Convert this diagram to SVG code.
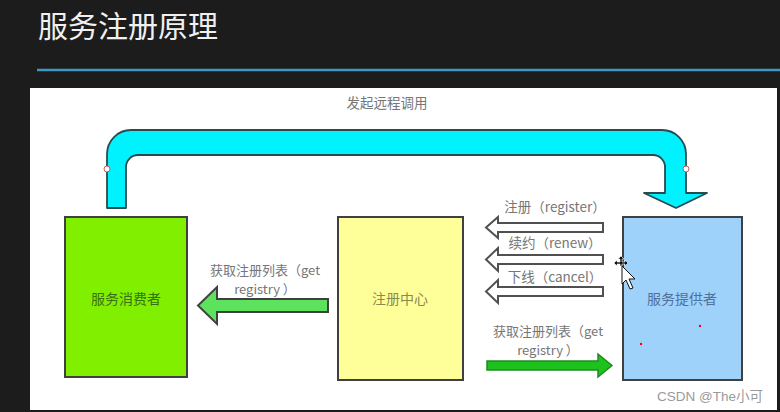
<svg xmlns="http://www.w3.org/2000/svg" width="780" height="412" viewBox="0 0 780 412">
<defs>
<style>
.cjk{font-family:"Noto Sans CJK SC","Liberation Sans",sans-serif;}
.lbl{font-family:"Noto Sans CJK SC","Liberation Sans",sans-serif;font-size:13.5px;fill:#767676;text-anchor:middle;}
.lbl2{font-size:13px;}
.box{stroke:#404040;stroke-width:2;}
.nt{font-family:"Noto Sans CJK SC","Liberation Sans",sans-serif;font-size:14px;text-anchor:middle;}
.hollow{fill:#ffffff;stroke:#505050;stroke-width:2;stroke-linejoin:miter;}
.handle{fill:#ffffff;stroke:#c06060;stroke-width:1;}
</style>
</defs>
<rect x="0" y="0" width="780" height="412" fill="#1c1c1c"/>
<text x="38" y="37" class="cjk" font-size="30" fill="#f0f0f0">服务注册原理</text>
<line x1="37" y1="70" x2="780" y2="70" stroke="#3d98c8" stroke-width="2.5"/>
<rect x="30" y="88" width="747" height="322" fill="#ffffff"/>
<text x="387" y="108" class="lbl" font-size="13">发起远程调用</text>

<g id="consumer">
<rect x="65" y="217" width="122" height="160" fill="#80f000" class="box"/>
<text x="126" y="304" class="nt" fill="#3a7010">服务消费者</text>
</g>
<g id="registry">
<rect x="338" y="217" width="125" height="163" fill="#ffff99" class="box"/>
<text x="400" y="304" class="nt" fill="#8a8a50">注册中心</text>
</g>
<g id="provider">
<rect x="623" y="217" width="119" height="163" fill="#9fd2fb" class="box"/>
<text x="682" y="304" class="nt" fill="#50709a">服务提供者</text>
</g>

<g id="connectors">
<path d="M107,208 L107,154 A24,24 0 0 1 131,130 L662,130 A24,24 0 0 1 686,154 L686,193 L707,193 L676,208 L644,193 L665,193 L665,167 A12,12 0 0 0 653,155 L138,155 A12,12 0 0 0 126,167 L126,208 Z" fill="#00f2ff" stroke="#2a4a50" stroke-width="1.8" stroke-linejoin="round"/>
<circle cx="107" cy="169" r="3" class="handle"/>
<circle cx="686" cy="169" r="3" class="handle"/>

<path d="M328,299 L217,299 L217,287 L198,305.5 L217,324 L217,312 L328,312 Z" fill="#5ce25c" stroke="#404040" stroke-width="2"/>
<text x="265" y="275" class="lbl lbl2">获取注册列表（get</text>
<text x="265" y="294" class="lbl lbl2">registry ）</text>

<path d="M603,223 L498,223 L498,217 L486,227.5 L498,238 L498,232 L603,232 Z" class="hollow"/>
<text x="555" y="212" class="lbl">注册（register）</text>
<path d="M603,255 L498,255 L498,248 L486,259.5 L498,271 L498,264 L603,264 Z" class="hollow"/>
<text x="555" y="248" class="lbl">续约（renew）</text>
<path d="M603,287 L498,287 L498,280 L486,291.5 L498,303 L498,296 L603,296 Z" class="hollow"/>
<text x="555" y="282" class="lbl">下线（cancel）</text>

<path d="M487,361 L598,361 L598,354 L612,365.5 L598,377 L598,370 L487,370 Z" fill="#1ec21e" stroke="#208a20" stroke-width="1.5"/>
<text x="548" y="336" class="lbl lbl2">获取注册列表（get</text>
<text x="548" y="355" class="lbl lbl2">registry ）</text>
</g>

<circle cx="700" cy="326" r="1.2" fill="#ff0000"/>
<circle cx="641" cy="344" r="1.2" fill="#ff0000"/>

<path d="M621,256 L624,259 L622,259 L622,262 L625,262 L625,260 L628,263 L625,266 L625,264 L622,264 L622,266 L620,266 L620,264 L617,264 L617,266 L614,263 L617,260 L617,262 L620,262 L620,259 L618,259 Z" fill="#111111" stroke="#ffffff" stroke-width="0.6"/>
<path d="M622,266 L622,284 L626,280 L630,289 L633,288 L629,279 L635,279 Z" fill="#ffffff" stroke="#111111" stroke-width="1"/>

<text x="710" y="401" font-family="Liberation Sans, Noto Sans CJK SC, sans-serif" font-size="13.5" fill="#9a9a9a" text-anchor="middle">CSDN @The小可</text>
</svg>
